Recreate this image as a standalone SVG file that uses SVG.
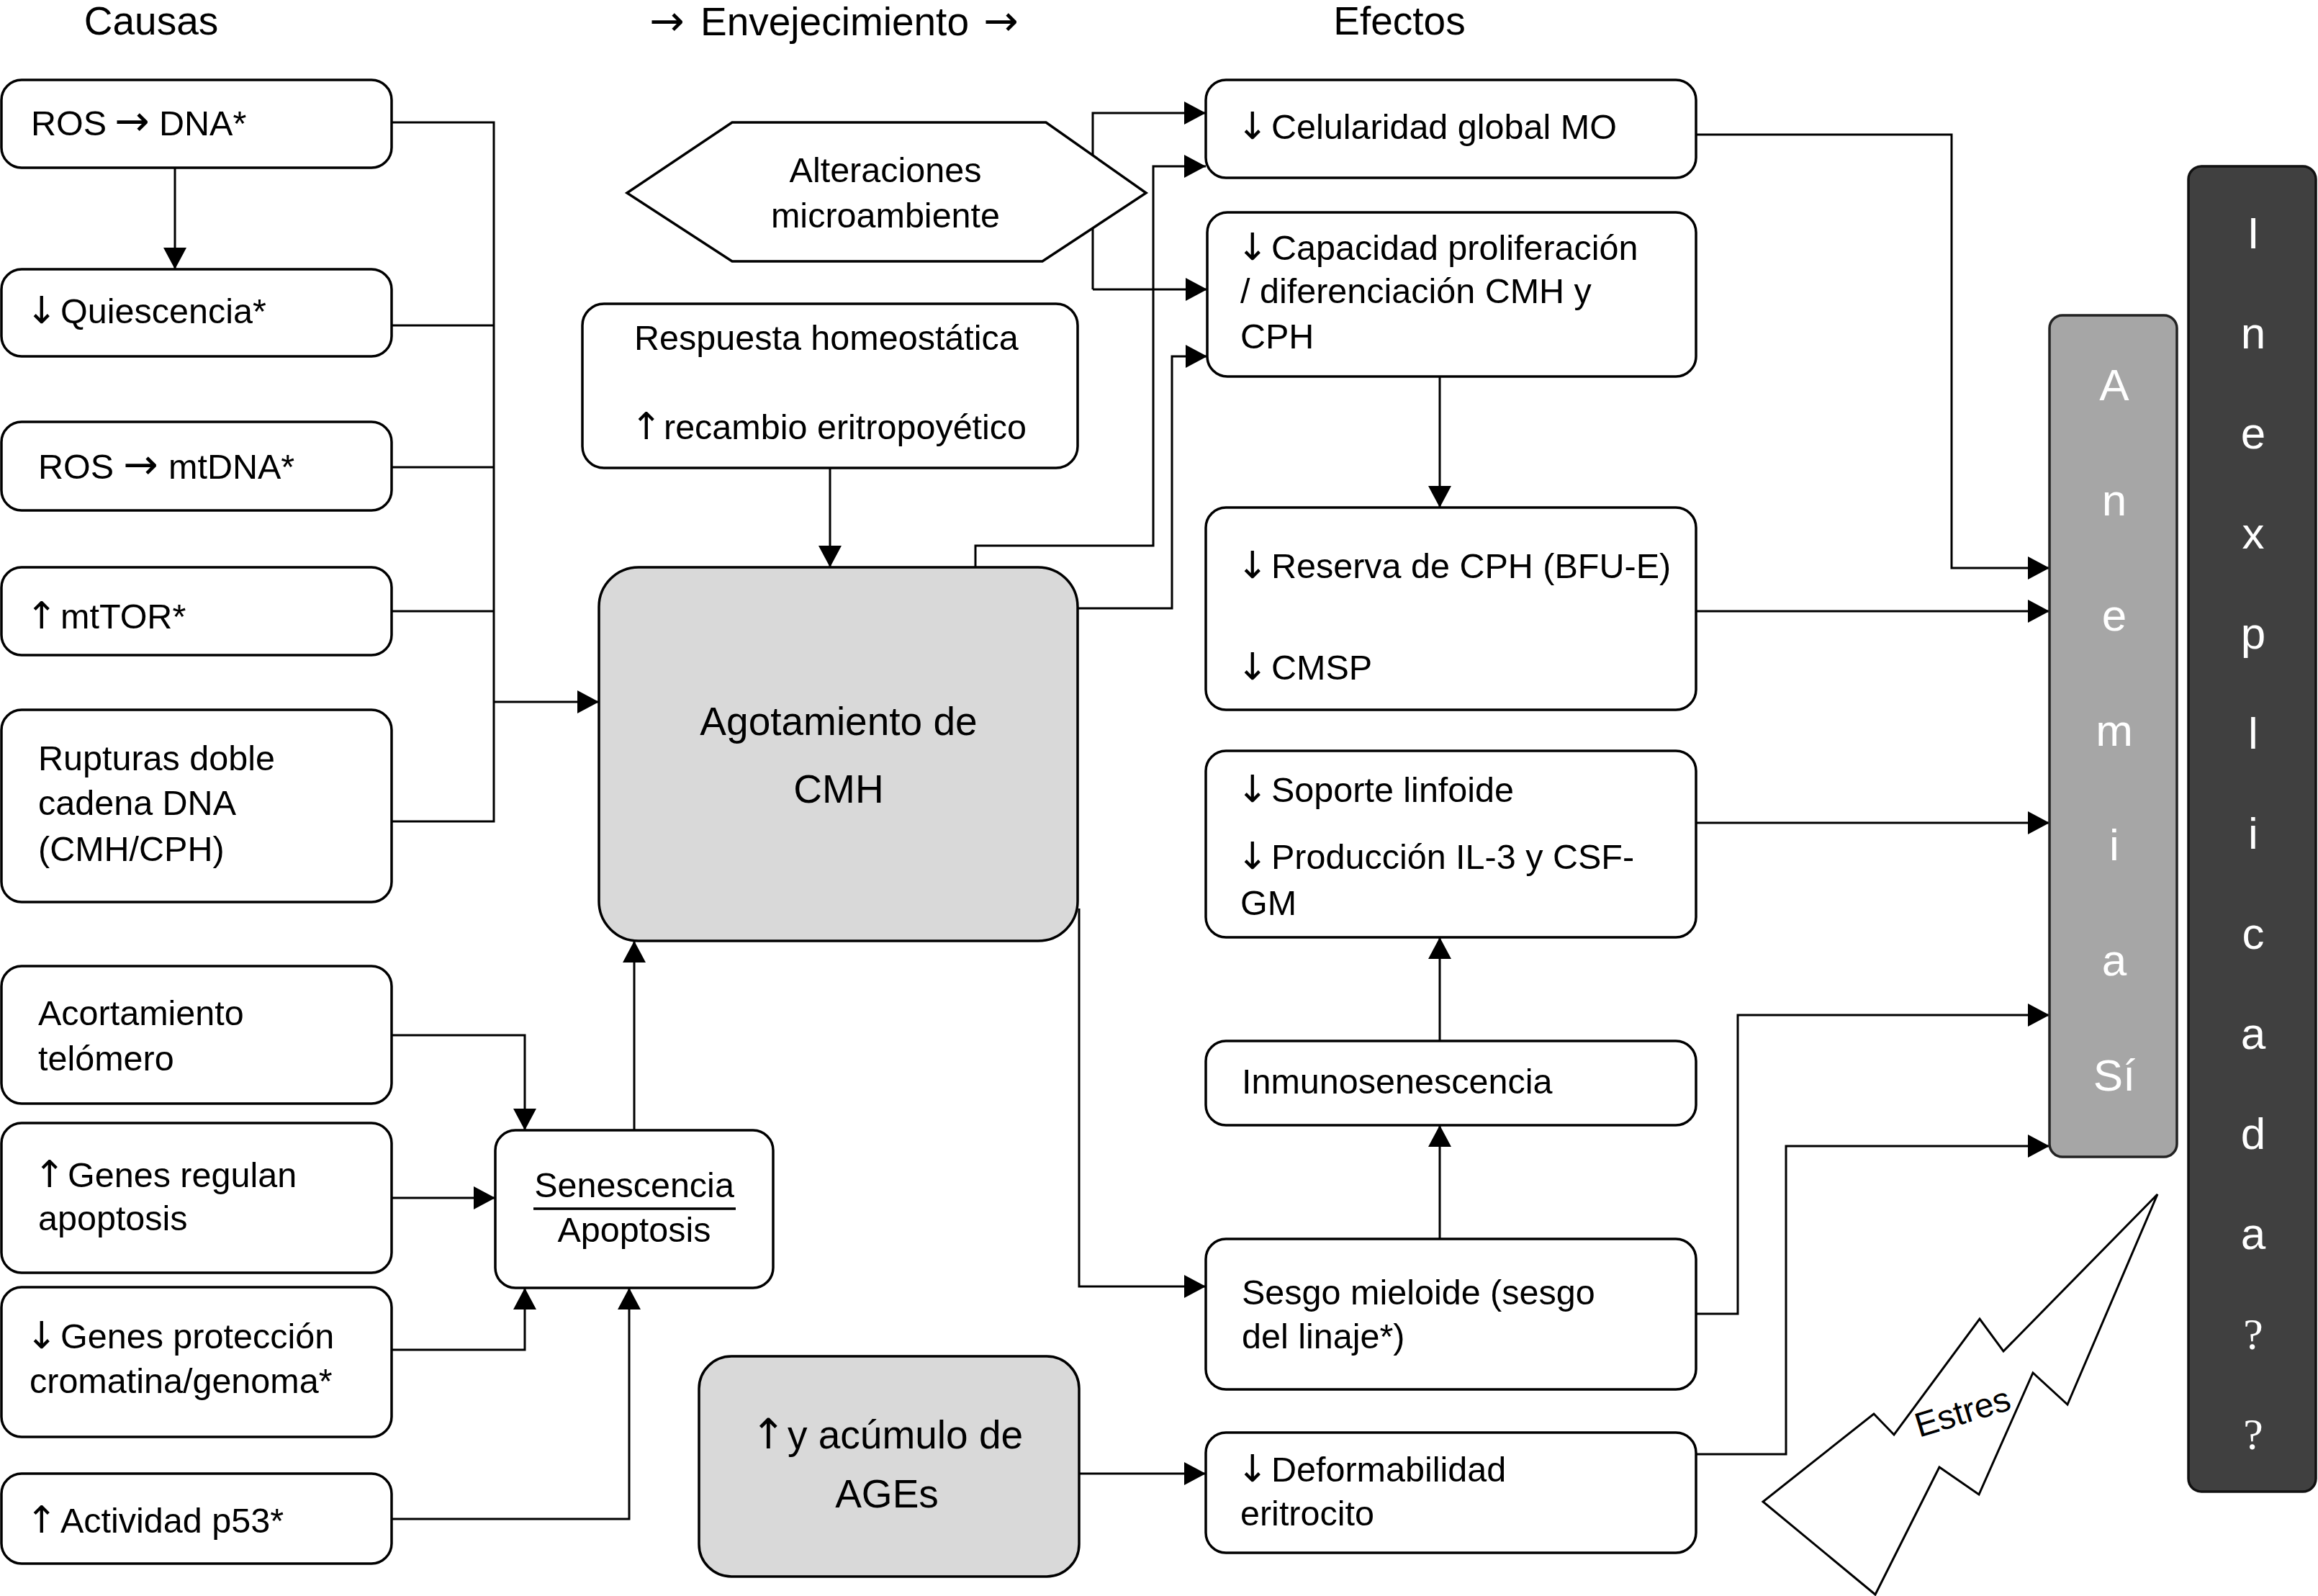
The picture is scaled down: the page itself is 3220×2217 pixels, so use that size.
<svg xmlns="http://www.w3.org/2000/svg" width="3220" height="2217" viewBox="0 0 3220 2217">
<defs>
<marker id="ah" markerUnits="userSpaceOnUse" markerWidth="32" markerHeight="34" refX="30" refY="16" orient="auto">
<path d="M0,0 L30,16 L0,32 z" fill="#000"/>
</marker>
<style>
.t{font-family:"Liberation Sans",Arial,sans-serif;font-size:48.5px;fill:#000}
.h{font-family:"Liberation Sans",Arial,sans-serif;font-size:55px;fill:#000}
.b{font-family:"Liberation Sans",Arial,sans-serif;font-size:55px;fill:#000}
.ar{font-family:"DejaVu Sans",sans-serif;font-size:52px}
.arh{font-family:"DejaVu Sans",sans-serif;font-size:58px}
.box{fill:#fff;stroke:#000;stroke-width:3.5}
.gray{fill:#d9d9d9;stroke:#000;stroke-width:3.5}
.c{fill:none;stroke:#000;stroke-width:3}
.ca{fill:none;stroke:#000;stroke-width:3;marker-end:url(#ah)}
.v{font-family:"Liberation Sans",Arial,sans-serif;font-size:62px;fill:#fff;text-anchor:middle}
.vs{font-family:"Liberation Serif","Times New Roman",serif;font-size:62px;fill:#fff;text-anchor:middle}
</style>
</defs>
<rect width="3220" height="2217" fill="#fff"/>

<g id="titles">
<text class="h" x="210" y="48" text-anchor="middle">Causas</text>
<text class="h" x="902" y="49"><tspan class="arh">→</tspan> <tspan x="973">Envejecimiento</tspan> <tspan class="arh" x="1366">→</tspan></text>
<text class="h" x="1944" y="48" text-anchor="middle">Efectos</text>
</g>

<g id="connectors">
<path class="ca" d="M243,233 V374"/>
<path class="c" d="M544,170 H686 V1141 H544"/>
<path class="c" d="M544,452 H686"/>
<path class="c" d="M544,649 H686"/>
<path class="c" d="M544,849 H686"/>
<path class="ca" d="M686,975 H832"/>
<path class="ca" d="M1153,650 V788"/>
<path class="ca" d="M1518,402 V157 H1675"/>
<path class="ca" d="M1518,402 H1677"/>
<path class="ca" d="M1355,788 V758 H1602 V231 H1675"/>
<path class="ca" d="M1497,845 H1628 V495 H1677"/>
<path class="ca" d="M1499,1262 V1787 H1675"/>
<path class="ca" d="M2000,523 V705"/>
<path class="ca" d="M2000,1446 V1302"/>
<path class="ca" d="M2000,1721 V1563"/>
<path class="ca" d="M2356,187 H2711 V789 H2847"/>
<path class="ca" d="M2356,849 H2847"/>
<path class="ca" d="M2356,1143 H2847"/>
<path class="ca" d="M2356,1825 H2414 V1410 H2847"/>
<path class="ca" d="M2356,2020 H2481 V1592 H2847"/>
<path class="ca" d="M1499,2047 H1675"/>
<path class="ca" d="M544,1438 H729 V1570"/>
<path class="ca" d="M544,1664 H688"/>
<path class="ca" d="M544,1875 H729 V1789"/>
<path class="ca" d="M544,2110 H874 V1789"/>
<path class="ca" d="M881,1570 V1307"/>
</g>

<g id="n-ros-dna"><rect class="box" x="2" y="111" width="542" height="122" rx="28"/><text class="t" x="43" y="188">ROS <tspan class="arh" x="159">→</tspan> <tspan x="221">DNA*</tspan></text></g>
<g id="n-quiescencia"><rect class="box" x="2" y="374" width="542" height="121" rx="28"/><text class="t" x="36" y="449"><tspan class="ar">↓</tspan> <tspan x="84">Quiescencia*</tspan></text></g>
<g id="n-ros-mtdna"><rect class="box" x="2" y="586" width="542" height="123" rx="28"/><text class="t" x="53" y="665">ROS <tspan class="arh" x="171">→</tspan> <tspan x="234">mtDNA*</tspan></text></g>
<g id="n-mttor"><rect class="box" x="2" y="788" width="542" height="122" rx="28"/><text class="t" x="36" y="873"><tspan class="ar">↑</tspan> <tspan x="84">mtTOR*</tspan></text></g>
<g id="n-rupturas"><rect class="box" x="2" y="986" width="542" height="267" rx="28"/><text class="t" x="53" y="1070">Rupturas doble</text><text class="t" x="53" y="1132">cadena DNA</text><text class="t" x="53" y="1196">(CMH/CPH)</text></g>
<g id="n-acortamiento"><rect class="box" x="2" y="1342" width="542" height="191" rx="28"/><text class="t" x="53" y="1424">Acortamiento</text><text class="t" x="53" y="1487">telómero</text></g>
<g id="n-genes-regulan"><rect class="box" x="2" y="1560" width="542" height="208" rx="28"/><text class="t" x="47" y="1649"><tspan class="ar">↑</tspan> <tspan x="94">Genes regulan</tspan></text><text class="t" x="53" y="1709">apoptosis</text></g>
<g id="n-genes-proteccion"><rect class="box" x="2" y="1788" width="542" height="208" rx="28"/><text class="t" x="36" y="1873"><tspan class="ar">↓</tspan> <tspan x="84">Genes protección</tspan></text><text class="t" x="41" y="1935">cromatina/genoma*</text></g>
<g id="n-p53"><rect class="box" x="2" y="2047" width="542" height="125" rx="28"/><text class="t" x="36" y="2129"><tspan class="ar">↑</tspan> <tspan x="84">Actividad p53*</tspan></text></g>

<g id="n-microambiente"><polygon class="box" points="871,268 1017,170 1453,170 1592,268 1448,363 1017,363"/><text class="t" x="1230" y="253" text-anchor="middle">Alteraciones</text><text class="t" x="1230" y="316" text-anchor="middle">microambiente</text></g>
<g id="n-respuesta"><rect class="box" x="809" y="422" width="688" height="228" rx="30"/><text class="t" x="881" y="486">Respuesta homeostática</text><text class="t" x="876" y="610"><tspan class="ar">↑</tspan> <tspan x="922">recambio eritropoyético</tspan></text></g>
<g id="n-agotamiento"><rect class="gray" x="832" y="788" width="665" height="519" rx="55"/><text class="b" x="1165" y="1021" text-anchor="middle">Agotamiento de</text><text class="b" x="1165" y="1115" text-anchor="middle">CMH</text></g>
<g id="n-senescencia"><rect class="box" x="688" y="1570" width="386" height="219" rx="28"/><text class="t" x="881" y="1663" text-anchor="middle">Senescencia</text><line x1="741" y1="1679" x2="1022" y2="1679" stroke="#000" stroke-width="3.5"/><text class="t" x="881" y="1725" text-anchor="middle">Apoptosis</text></g>
<g id="n-ages"><rect class="gray" x="971" y="1884" width="528" height="306" rx="45"/><text class="b" x="1043" y="2012"><tspan class="ar" style="font-size:58px">↑</tspan> <tspan x="1094">y acúmulo de</tspan></text><text class="b" x="1232" y="2094" text-anchor="middle">AGEs</text></g>

<g id="n-celularidad"><rect class="box" x="1675" y="111" width="681" height="136" rx="28"/><text class="t" x="1718" y="193"><tspan class="ar">↓</tspan> <tspan x="1766">Celularidad global MO</tspan></text></g>
<g id="n-capacidad"><rect class="box" x="1677" y="295" width="679" height="228" rx="28"/><text class="t" x="1718" y="361"><tspan class="ar">↓</tspan> <tspan x="1766">Capacidad proliferación</tspan></text><text class="t" x="1723" y="421">/ diferenciación CMH y</text><text class="t" x="1723" y="484">CPH</text></g>
<g id="n-reserva"><rect class="box" x="1675" y="705" width="681" height="281" rx="28"/><text class="t" x="1718" y="803"><tspan class="ar">↓</tspan> <tspan x="1766">Reserva de CPH (BFU-E)</tspan></text><text class="t" x="1718" y="944"><tspan class="ar">↓</tspan> <tspan x="1766">CMSP</tspan></text></g>
<g id="n-soporte"><rect class="box" x="1675" y="1043" width="681" height="259" rx="28"/><text class="t" x="1718" y="1114"><tspan class="ar">↓</tspan> <tspan x="1766">Soporte linfoide</tspan></text><text class="t" x="1718" y="1207"><tspan class="ar">↓</tspan> <tspan x="1766">Producción IL-3 y CSF-</tspan></text><text class="t" x="1723" y="1271">GM</text></g>
<g id="n-inmuno"><rect class="box" x="1675" y="1446" width="681" height="117" rx="28"/><text class="t" x="1725" y="1519">Inmunosenescencia</text></g>
<g id="n-sesgo"><rect class="box" x="1675" y="1721" width="681" height="209" rx="28"/><text class="t" x="1725" y="1812">Sesgo mieloide (sesgo</text><text class="t" x="1725" y="1873">del linaje*)</text></g>
<g id="n-deform"><rect class="box" x="1675" y="1990" width="681" height="167" rx="28"/><text class="t" x="1718" y="2058"><tspan class="ar">↓</tspan> <tspan x="1766">Deformabilidad</tspan></text><text class="t" x="1723" y="2119">eritrocito</text></g>

<g id="n-estres"><polygon fill="#fff" stroke="#000" stroke-width="3" points="2605,2215 2449,2086 2603,1964 2631,1993 2750,1832 2783,1877 2997,1659 2872,1951 2824,1907 2749,2076 2694,2038"/><text class="t" x="2731" y="1977" text-anchor="middle" transform="rotate(-17 2731 1977)" style="font-size:48px">Estres</text></g>

<g id="n-anemia"><rect x="2847" y="438" width="177" height="1169" rx="18" fill="#a6a6a6" stroke="#222" stroke-width="3.5"/>
<text class="v" x="2937" y="556">A</text><text class="v" x="2937" y="716">n</text><text class="v" x="2937" y="876">e</text><text class="v" x="2937" y="1036">m</text><text class="v" x="2937" y="1195">i</text><text class="v" x="2937" y="1355">a</text><text class="v" x="2937" y="1515">Sí</text></g>

<g id="n-inexplicada"><rect x="3040" y="231" width="177" height="1841" rx="18" fill="#404040" stroke="#111" stroke-width="3.5"/>
<text class="v" x="3130" y="345">I</text><text class="v" x="3130" y="484">n</text><text class="v" x="3130" y="623">e</text><text class="v" x="3130" y="762">x</text><text class="v" x="3130" y="901">p</text><text class="v" x="3130" y="1040">l</text><text class="v" x="3130" y="1179">i</text><text class="v" x="3130" y="1318">c</text><text class="v" x="3130" y="1457">a</text><text class="v" x="3130" y="1596">d</text><text class="v" x="3130" y="1735">a</text><text class="vs" x="3130" y="1874">?</text><text class="vs" x="3130" y="2013">?</text></g>
</svg>
